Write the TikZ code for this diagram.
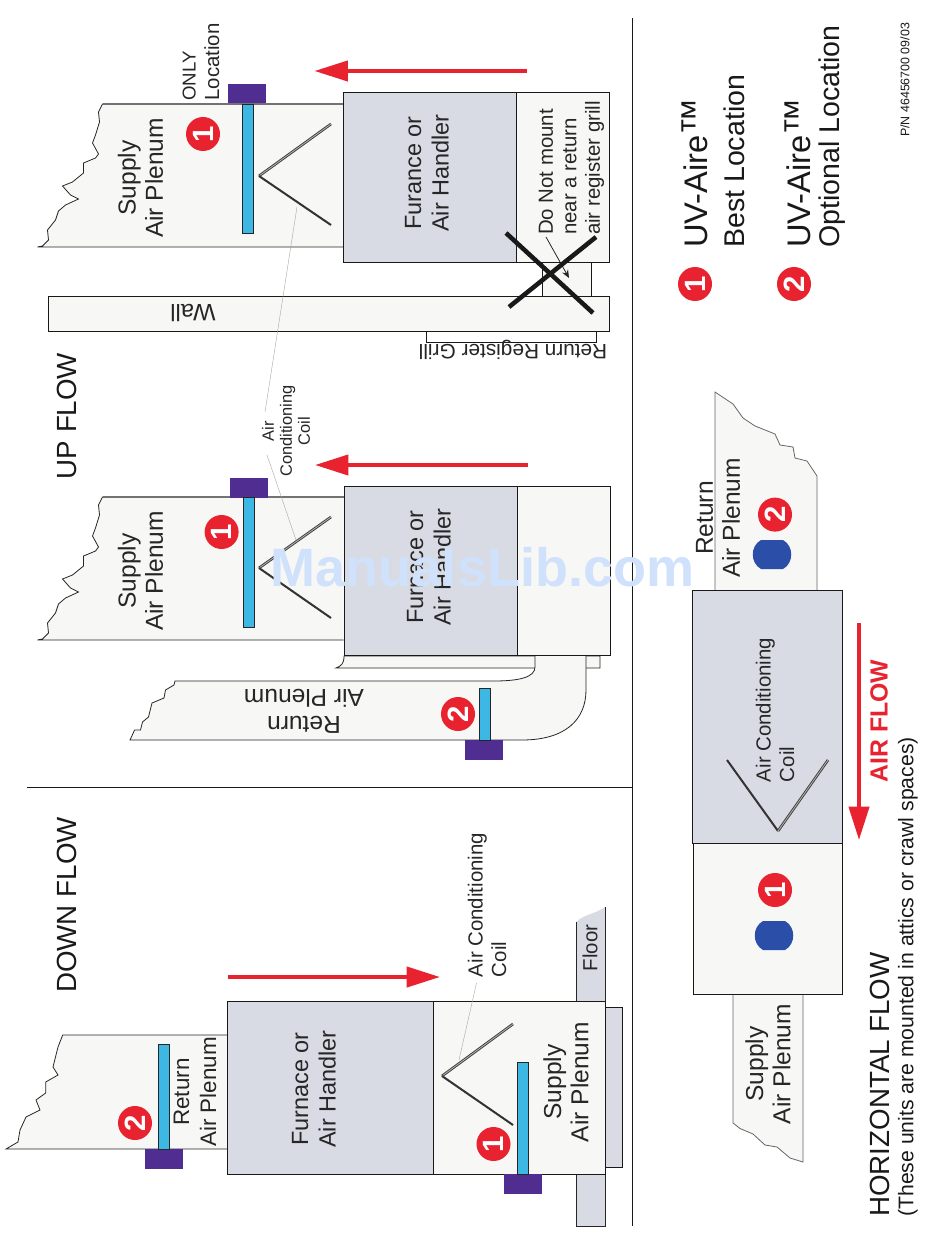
\documentclass[tikz,border=0pt]{standalone}
\usepackage{fontspec}
\setmainfont{Liberation Sans}
\usetikzlibrary{arrows.meta}
\definecolor{unitgray}{HTML}{D8DBE4}
\definecolor{offwhite}{HTML}{F7F7F6}
\definecolor{flowred}{HTML}{E8222F}
\definecolor{mountpurple}{HTML}{4F2D91}
\definecolor{barblue}{HTML}{3DB8E5}
\definecolor{lampblue}{HTML}{2B4EA8}
\definecolor{markblue}{HTML}{CFE1FB}
\begin{document}
\begin{tikzpicture}[x=0.75pt, y=-0.75pt,
    every node/.style={inner sep=0pt},
    plenum/.style={fill=offwhite, draw=black!85, line width=0.6pt},
    unitbody/.style={fill=unitgray, draw=black!90, line width=0.65pt},
    unitend/.style={fill=offwhite, draw=black!90, line width=0.65pt},
    flowarrow/.style={draw=flowred, line width=3pt, -{Triangle[width=15pt,length=25pt]}},
    leader/.style={draw=black!35, line width=0.3pt},
    coilup/.style={draw=black!75, double=black!30, double distance=0.6pt, line width=0.7pt},
    coildown/.style={draw=black!80, line width=1.5pt},
    badge/.style={circle, fill=flowred, text=white, rotate=90, minimum size=25.5pt, font=\fontsize{22}{22}\selectfont\bfseries},
    biglabel/.style={rotate=90, align=center, text=black!85, font=\fontsize{18.4}{20.3}\selectfont},
    furnacelabel/.style={biglabel, font=\fontsize{17.6}{20.6}\selectfont},
    flippedlabel/.style={rotate=180, align=center, text=black!85},
    midlabel/.style={rotate=90, align=left, text=black!85, font=\fontsize{15.3}{17.6}\selectfont},
    smalllabel/.style={rotate=90, align=center, text=black!85, font=\fontsize{12.3}{13.5}\selectfont},
    heading/.style={rotate=90, text=black!90, font=\fontsize{20.8}{22}\selectfont},
    legend/.style={rotate=90, anchor=west, text=black!90}]
    \useasboundingbox (0,0) rectangle (950,1241);
    \fill[white] (0,0) rectangle (950,1241);

    \draw[black!90, line width=0.7pt] (632,18) -- (632,1226);
    \draw[black!90, line width=0.7pt] (27,787) -- (632,787);

    % the two supply plenums of the up flow units
    \foreach \dy in {0,393} {
        \draw[plenum, shift={(0.5,\dy)}] (343,104) -- (102,104) -- (98,112) -- (99,122) -- (95,135) -- (92,143) -- (98,154) -- (95,158) -- (83,163) -- (83,173) -- (72,182) -- (62,186) -- (70,195) -- (78,199) -- (65,205) -- (58,211) -- (55,220) -- (47,230) -- (48,240) -- (42,246) -- (37,247) -- (343,247);
        \draw[black!55, line width=0.8pt, shift={(0.5,\dy)}] (102,104) -- (343,104);
    }

    % up flow beside the wall
    \draw[unitend] (542.5,262) rectangle (591,296);
    \draw[unitbody] (343,92) rectangle (516,262);
    \draw[unitend] (516,92) rectangle (609,262);
    \draw[unitend] (48.5,296) rectangle (609,331);
    \draw[black!90, line width=0.5pt] (426,331) -- (426,342) -- (596,342) -- (596,331);

    % up flow with return duct
    \draw[plenum] (336,668) .. controls (341,666) and (344,664) .. (344,656) -- (600,656) -- (600,668) -- cycle;
    \draw[plenum] (535,656) -- (535,667) .. controls (535,677) and (520,681) .. (494,681) -- (175,681) -- (174,685) -- (165.5,690) -- (164,698) -- (152,703) -- (148.5,717) -- (142.5,722) -- (140.5,730) -- (134.6,730) -- (130,740) -- (522,740) .. controls (565,740) and (586,720) .. (586,690) -- (586,656);
    \draw[unitbody] (344,486) rectangle (517,655);
    \draw[unitend] (517,486) rectangle (610,655);

    % down flow
    \draw[plenum] (228,1035) -- (62.7,1035) -- (58,1047) -- (53,1067) -- (58,1075) -- (45.7,1082) -- (45.7,1093) -- (36,1100) -- (40,1110) -- (26,1117) -- (20,1130) -- (18,1142) -- (6,1149) -- (228,1149);
    \fill[unitgray] (576,1001) -- (576,922) .. controls (584,914) and (596,914) .. (605,907) -- (605,1001);
    \draw[black!85, line width=0.6pt] (576,922) -- (576,1001);
    \draw[black!85, line width=0.6pt] (605,907) -- (605,1001);
    \draw[fill=unitgray, draw=black!85, line width=0.6pt] (576,1174) rectangle (605,1226);
    \draw[unitbody] (605,1007) rectangle (622,1167);
    \draw[unitbody] (227.5,1001) rectangle (433,1174);
    \draw[unitend] (433,1001) rectangle (605,1174);

    % horizontal flow
    \draw[plenum, draw=black!60] (715,590) -- (715,392) -- (733,404) -- (743,418) -- (755,426) -- (775,434) -- (780,445) -- (793,447) -- (795,458) -- (807,461) -- (817,476) -- (817,590);
    \draw[plenum, draw=black!60] (733,994) -- (733,1123) -- (740,1128.5) -- (753,1134) -- (765,1145) -- (777,1147) -- (790,1158) -- (803,1162) -- (803,994);
    \draw[unitbody] (692.5,590) rectangle (842,843);
    \draw[unitend] (693,843) rectangle (842,994);

    % mounts and lamps
    \foreach \mx/\my in {228/84, 230/478, 465/740, 144.5/1149, 503.5/1174} \fill[mountpurple] (\mx,\my) rectangle +(38,19.5);
    \foreach \bx/\bt/\bb in {242/104/233, 243/497/627, 479/688/740, 158/1044/1149, 517/1062/1174} \draw[fill=barblue, draw=black!85, line width=0.5pt] (\bx,\bt) rectangle (\bx+11.5,\bb);
    \foreach \lx/\ly in {753/540, 755/921} \fill[lampblue] (\lx+8,\ly) -- (\lx+30,\ly) .. controls (\lx+41,\ly+6) and (\lx+41,\ly+23) .. (\lx+30,\ly+29) -- (\lx+8,\ly+29) .. controls (\lx-3,\ly+23) and (\lx-3,\ly+6) .. cycle;

    % coils
    \foreach \ax/\ay/\ex/\et/\eb in {259/176/331/124/225, 259/568/331/517/618, 442/1076/513/1024/1125} {
        \draw[coilup] (\ax,\ay) -- (\ex,\et);
        \draw[coildown] (\ax,\ay) -- (\ex,\eb);
    }
    \draw[coildown] (778,831) -- (727,760);
    \draw[coilup] (778,831) -- (828,760);

    % leaders
    \coordinate (coiltop) at (297,207);
    \coordinate (coilmid) at (296,540);
    \coordinate (coillow) at (459,1060);
    \coordinate (leadtop) at (265,412);
    \coordinate (leadmid) at (267,455);
    \coordinate (leadlow) at (476.5,983);
    \draw[leader] (coiltop) -- (leadtop);
    \draw[leader] (coilmid) -- (leadmid);
    \draw[leader] (coillow) -- (leadlow);

    % air flow arrows
    \coordinate (flowAs) at (527,71);
    \coordinate (flowAe) at (314.5,71);
    \coordinate (flowBs) at (528,465);
    \coordinate (flowBe) at (315,465);
    \coordinate (flowCs) at (228,977);
    \coordinate (flowCe) at (440,977);
    \coordinate (flowDs) at (859,623);
    \coordinate (flowDe) at (859,840);
    \draw[flowarrow] (flowAs) -- (flowAe);
    \draw[flowarrow] (flowBs) -- (flowBe);
    \draw[flowarrow] (flowCs) -- (flowCe);
    \draw[flowarrow] (flowDs) -- (flowDe);

    % labels
    \node[heading] (upflow) at (67,416) {UP FLOW};
    \node[heading] (downflow) at (67,905) {DOWN FLOW};
    \node[biglabel] (supplyA) at (140.5,178) {Supply\\Air Plenum};
    \node[furnacelabel] (furnaceA) at (427,173) {Furance or\\Air Handler};
    \node[biglabel] (supplyB) at (140.5,571) {Supply\\Air Plenum};
    \node[furnacelabel] (furnaceB) at (429,567) {Furnace or\\Air Handler};
    \node[biglabel, font=\fontsize{16.8}{20.3}\selectfont] (returnC) at (195,1092) {Return\\Air Plenum};
    \node[furnacelabel] (furnaceC) at (314,1089) {Furnace or\\Air Handler};
    \node[biglabel] (supplyC) at (566,1082) {Supply\\Air Plenum};
    \node[biglabel] (returnD) at (718,518) {Return\\Air Plenum};
    \node[biglabel] (supplyD) at (768,1064) {Supply\\Air Plenum};
    \node[flippedlabel, font=\fontsize{18.4}{20.3}\selectfont] (returnB) at (304,711) {Return\\Air Plenum};
    \node[flippedlabel, font=\fontsize{17.8}{20}\selectfont] (wall) at (193,313) {Wall};
    \node[flippedlabel, font=\fontsize{15.6}{16}\selectfont] (grill) at (513,350) {Return Register Grill};
    \node[midlabel] (onlyloc) at (201,62) {{\fontsize{14}{17.6}\selectfont ONLY}\\Location};
    \node[midlabel] (donot) at (571.5,168) {Do Not mount\\near a return\\air register grill};
    \node[midlabel] (floor) at (590,948) {Floor};
    \node[midlabel] (accoilC) at (487,905) {Air Conditioning\\Coil};
    \node[midlabel] (accoilD) at (775,710) {Air Conditioning\\Coil};
    \node[smalllabel] (accoilB) at (286,431) {Air\\Conditioning\\Coil};
    \node[rotate=90, text=flowred, font=\fontsize{18.6}{20}\selectfont\bfseries] (airflow) at (879,721) {AIR FLOW};
    \node[rotate=90, anchor=west, text=black!90, font=\fontsize{20.8}{22}\selectfont] (horizontal) at (880,1217) {HORIZONTAL FLOW};
    \node[rotate=90, anchor=west, text=black!90, font=\fontsize{15.9}{17}\selectfont] (units) at (908,1217) {(These units are mounted in attics or crawl spaces)};
    \node[rotate=90, anchor=west, text=black!90, font=\fontsize{9.3}{10}\selectfont] (partno) at (905,137) {P/N 46456700 09/03};

    % do not mount mark
    \coordinate (noteA) at (546,237);
    \coordinate (noteB) at (569,278);
    \draw[black!85, line width=0.6pt, -{Stealth[length=6pt,width=5pt]}] (noteA) -- (noteB);
    \coordinate (crossA) at (506,233);
    \coordinate (crossB) at (593,313);
    \coordinate (crossC) at (596,237);
    \coordinate (crossD) at (509,307);
    \draw[black!90, line width=3.4pt] (crossA) -- (crossB);
    \draw[black!90, line width=3.4pt] (crossC) -- (crossD);

    % numbered badges
    \node[badge] (oneA) at (203,134) {1};
    \node[badge] (oneB) at (221.6,532) {1};
    \node[badge] (twoB) at (458,714) {2};
    \node[badge] (twoC) at (135,1123) {2};
    \node[badge] (oneC) at (493.5,1144) {1};
    \node[badge] (twoD) at (775,514.6) {2};
    \node[badge] (oneD) at (775,890) {1};
    \node[badge] (oneL) at (695,284) {1};
    \node[badge] (twoL) at (794,284) {2};

    % legend
    \node[legend, font=\fontsize{24.5}{26}\selectfont] (bestA) at (695,248) {UV-Aire{\fontsize{28}{28}\selectfont ™}};
    \node[legend, font=\fontsize{21.4}{23}\selectfont] (bestB) at (734,248) {Best Location};
    \node[legend, font=\fontsize{24.5}{26}\selectfont] (optA) at (798,248) {UV-Aire{\fontsize{28}{28}\selectfont ™}};
    \node[legend, font=\fontsize{21.4}{23}\selectfont] (optB) at (832,248) {Optional Location};

    \node[text=markblue, font=\fontsize{40.5}{42}\selectfont\bfseries] (mark) at (482.5,567) {ManualsLib.com};
\end{tikzpicture}
\end{document}
